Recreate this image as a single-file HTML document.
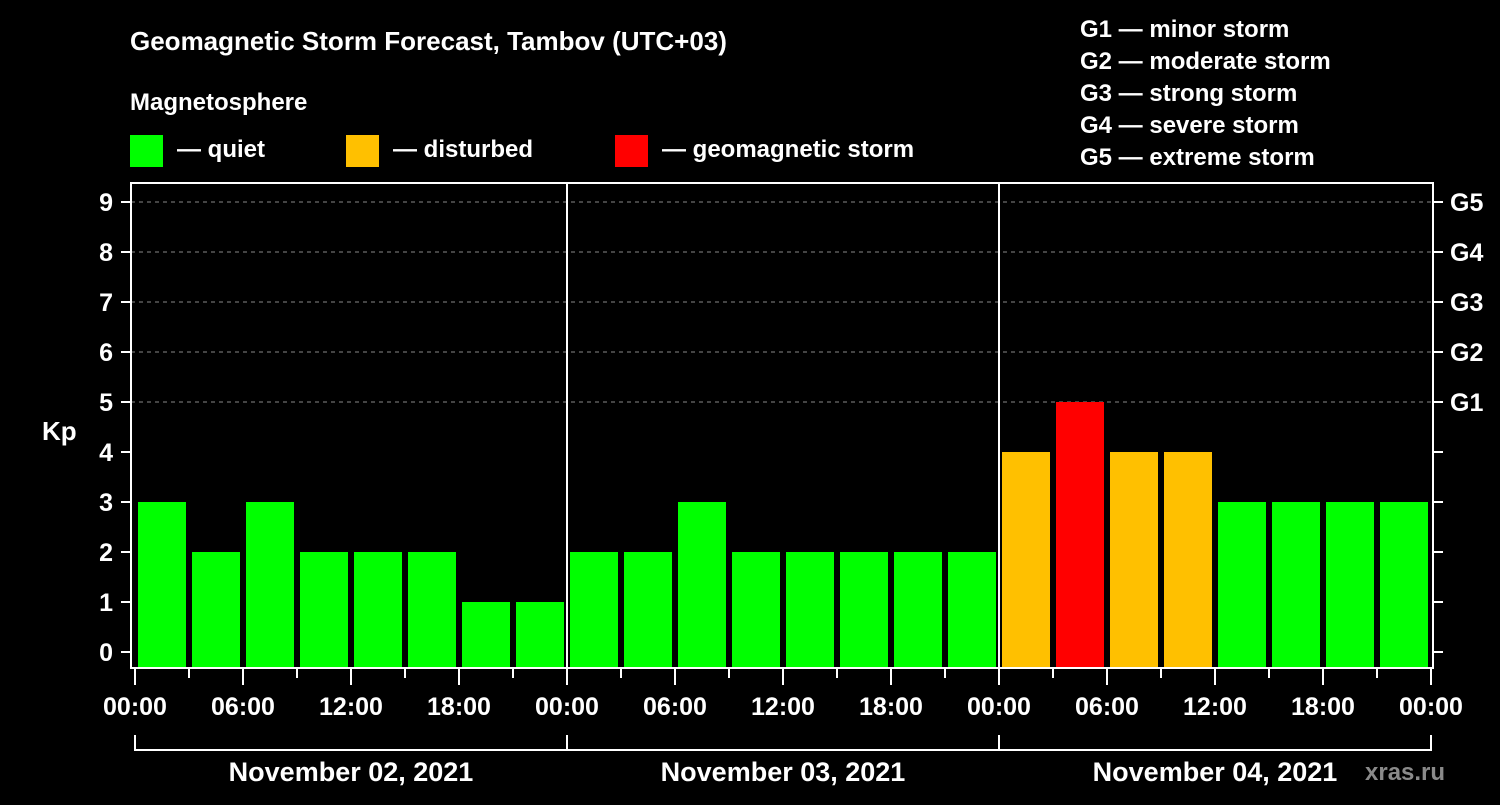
<!DOCTYPE html>
<html><head><meta charset="utf-8"><style>
body{margin:0;background:#000;width:1500px;height:800px;overflow:hidden}
svg text{font-family:"Liberation Sans",Arial,sans-serif;font-weight:bold;fill:#fff}
</style></head><body>
<svg id="c" width="1500" height="800">
<text x="130" y="50" font-size="26">Geomagnetic Storm Forecast, Tambov (UTC+03)</text>
<text x="130" y="110" font-size="24">Magnetosphere</text>
<g><rect x="130" y="135" width="33" height="32" fill="#00ff00"/><text x="177" y="157" font-size="24">— quiet</text></g>
<g><rect x="346" y="135" width="33" height="32" fill="#ffc000"/><text x="393" y="157" font-size="24">— disturbed</text></g>
<g><rect x="615" y="135" width="33" height="32" fill="#ff0000"/><text x="662" y="157" font-size="24">— geomagnetic storm</text></g>
<g font-size="24">
<text x="1080" y="37">G1 — minor storm</text><text x="1080" y="69">G2 — moderate storm</text><text x="1080" y="101">G3 — strong storm</text><text x="1080" y="133">G4 — severe storm</text><text x="1080" y="165">G5 — extreme storm</text></g>
<text x="42" y="440" font-size="26">Kp</text>
<text x="1365" y="780" font-size="24" fill="#888" style="fill:#8a8a8a">xras.ru</text>
<g id="plot"></g>
</svg>
<script>
const kpValues=[3,2,3,2,2,2,1,1, 2,2,3,2,2,2,2,2, 4,5,4,4,3,3,3,3];
const dayLabels=["November 02, 2021","November 03, 2021","November 04, 2021"];
const xTickLabels=["00:00","06:00","12:00","18:00"];
const yTicks=[0,1,2,3,4,5,6,7,8,9];
const gLabels=["G1","G2","G3","G4","G5"];
const NS="http://www.w3.org/2000/svg";
const g=document.getElementById('plot');
const x0=135,dayW=432,slotW=54;
const xs=i=>x0+i*slotW;
const ys=v=>652-v*50;
function mk(t,a,p){const e=document.createElementNS(NS,t);for(const k in a)e.setAttribute(k,a[k]);(p||g).appendChild(e);return e;}
// grid
[5,6,7,8,9].forEach(v=>{const l=mk('line',{x1:131,x2:1433,y1:ys(v),y2:ys(v),stroke:'#888','stroke-dasharray':'4,4','stroke-width':1});

});
// bars
kpValues.forEach((v,i)=>{const c=v>=5?'#ff0000':v==4?'#ffc000':'#00ff00';
const r=mk('rect',{x:xs(i)+3,y:ys(v),width:48,height:668-ys(v),fill:c});

});
// frame
const f=mk('rect',{x:131,y:183,width:1302,height:485,fill:'none',stroke:'#fff','stroke-width':2});


[1,2].forEach(d=>{const l=mk('line',{x1:x0+d*dayW,x2:x0+d*dayW,y1:183,y2:668,stroke:'#fff','stroke-width':2});

});
// y ticks
yTicks.forEach(v=>{mk('line',{x1:121,x2:131,y1:ys(v),y2:ys(v),stroke:'#fff','stroke-width':2});
mk('line',{x1:1433,x2:1443,y1:ys(v),y2:ys(v),stroke:'#fff','stroke-width':2});
const t=mk('text',{x:113,y:ys(v)+9,'text-anchor':'end','font-size':25});t.textContent=v;

});
gLabels.forEach((s,i)=>{const t=mk('text',{x:1450,y:ys(5+i)+9,'font-size':25});t.textContent=s;

});
// x ticks
for(let i=0;i<=24;i++){const x=xs(i);mk('line',{x1:x,x2:x,y1:669,y2:i%2?678:685,stroke:'#fff','stroke-width':2});
if(i%2==0){const t=mk('text',{x:x,y:715,'text-anchor':'middle','font-size':25});t.textContent=xTickLabels[(i/2)%4];

}}
// day brackets
mk('path',{d:`M${x0},735V750H${x0+3*dayW}V735M${x0+dayW},735V750M${x0+2*dayW},735V750`,stroke:'#fff','stroke-width':2,fill:'none'});
dayLabels.forEach((s,d)=>{const t=mk('text',{x:x0+d*dayW+dayW/2,y:781,'text-anchor':'middle','font-size':27});t.textContent=s;

});
</script>
</body></html>
